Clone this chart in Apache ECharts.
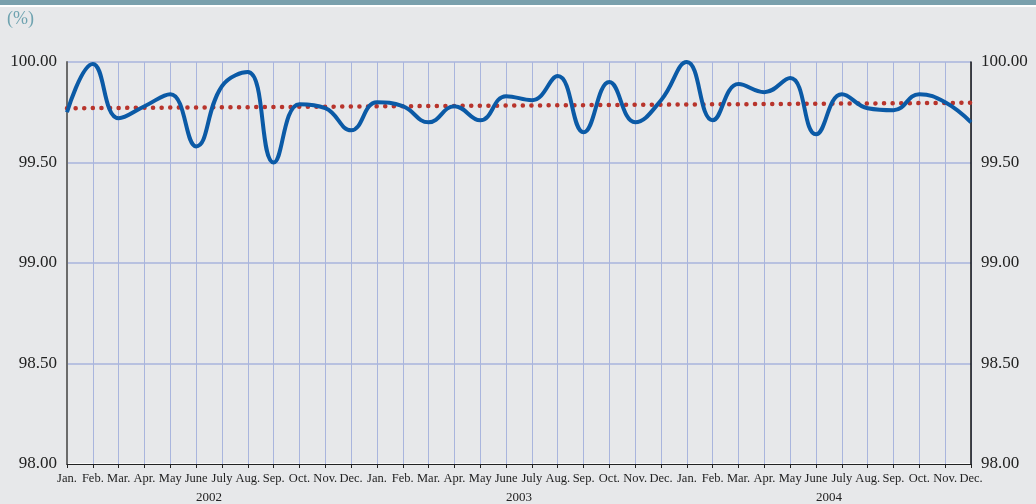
<!DOCTYPE html>
<html>
<head>
<meta charset="utf-8">
<script src="https://cdn.jsdelivr.net/npm/echarts@6/dist/echarts.min.js"></script>
<style>
  html, body { margin: 0; padding: 0; background: #e7e8ea; }
  #chart { width: 1036px; height: 504px; }
</style>
</head>
<body>
<div id="chart"></div>
<script>
// month labels, 3 years
const months = ["Jan.", "Feb.", "Mar.", "Apr.", "May", "June", "July", "Aug.", "Sep.", "Oct.", "Nov.", "Dec."];
const years = ["2002", "2003", "2004"];
const categories = years.flatMap(() => months);

// rate (%)
const rate = [
  99.75, 99.99, 99.72, 99.78, 99.84, 99.58, 99.88, 99.95, 99.50, 99.79, 99.77, 99.66,
  99.80, 99.78, 99.70, 99.78, 99.71, 99.83, 99.81, 99.93, 99.65, 99.90, 99.70, 99.81,
  100.00, 99.71, 99.89, 99.85, 99.92, 99.64, 99.84, 99.77, 99.76, 99.84, 99.80, 99.70
];
// trend line: first and last month
const trend = [99.77, 99.797];

const yTicks = [98.0, 98.5, 99.0, 99.5, 100.0];

const fontFamily = "'Liberation Serif', 'DejaVu Serif', serif";

const trendData = categories.map((c, i) =>
  i === 0 ? trend[0] : i === categories.length - 1 ? trend[1] : null
);

const myChart = echarts.init(document.getElementById("chart"));

const yAxisBase = {
  type: "value",
  min: yTicks[0],
  max: yTicks[yTicks.length - 1],
  interval: 0.5,
  axisTick: { show: false },
  axisLabel: {
    fontFamily,
    fontSize: 17,
    color: "#222",
    margin: 10,
    formatter: (v) => v.toFixed(2),
  },
};

myChart.setOption({
  backgroundColor: "#e7e8ea",
  animation: false,
  grid: { left: 67, right: 65, top: 62, bottom: 40 },
  graphic: [
    { id: "bar", type: "rect", left: 0, top: 0, shape: { width: 1036, height: 5 }, style: { fill: "#7aa0ad" } },
    { id: "barLine", type: "rect", left: 0, top: 5, shape: { width: 1036, height: 2 }, style: { fill: "#ffffff" } },
    {
      id: "unit",
      type: "text",
      left: 7,
      top: 10,
      style: { text: "(%)", font: "18px " + fontFamily, fill: "#6fa3b0" },
    },
  ],
  xAxis: {
    type: "category",
    data: categories,
    boundaryGap: false,
    axisLine: { lineStyle: { color: "#222", width: 1 } },
    axisTick: { show: true, length: 4, lineStyle: { color: "#222" } },
    axisLabel: {
      interval: 0,
      fontFamily,
      fontSize: 12.5,
      color: "#222",
      margin: 8,
      hideOverlap: false,
    },
    splitLine: { show: true, lineStyle: { color: "#a9b5dd", width: 1 } },
  },
  yAxis: [
    {
      ...yAxisBase,
      position: "left",
      axisLine: { show: true, lineStyle: { color: "#6b6b6b", width: 2 } },
      splitLine: {
        show: true,
        lineStyle: { color: ["#ffffff", "#a9b5dd", "#a9b5dd", "#a9b5dd", "#a9b5dd"], width: 1.5 },
      },
    },
    {
      ...yAxisBase,
      position: "right",
      axisLine: { show: true, lineStyle: { color: "#111", width: 1.5 } },
      splitLine: { show: false },
    },
  ],
  series: [
    {
      name: "trend",
      type: "line",
      data: trendData,
      connectNulls: true,
      symbol: "none",
      lineStyle: { color: "#b8342c", width: 4.5, type: [0.1, 8.5], cap: "round" },
      z: 2,
    },
    {
      name: "rate",
      type: "line",
      data: rate,
      smooth: 0.45,
      symbol: "none",
      lineStyle: { color: "#0b5aa6", width: 4 },
      z: 3,
    },
  ],
});

// year labels centred under each year's months
const yearText = years.map((y, k) => {
  const a = myChart.convertToPixel({ xAxisIndex: 0 }, k * 12);
  const b = myChart.convertToPixel({ xAxisIndex: 0 }, k * 12 + 11);
  return {
    id: "year" + k,
    type: "text",
    x: (a + b) / 2,
    y: 491,
    style: { text: y, font: "13px " + fontFamily, fill: "#222", align: "center" },
  };
});
myChart.setOption({ graphic: yearText });
</script>
</body>
</html>
